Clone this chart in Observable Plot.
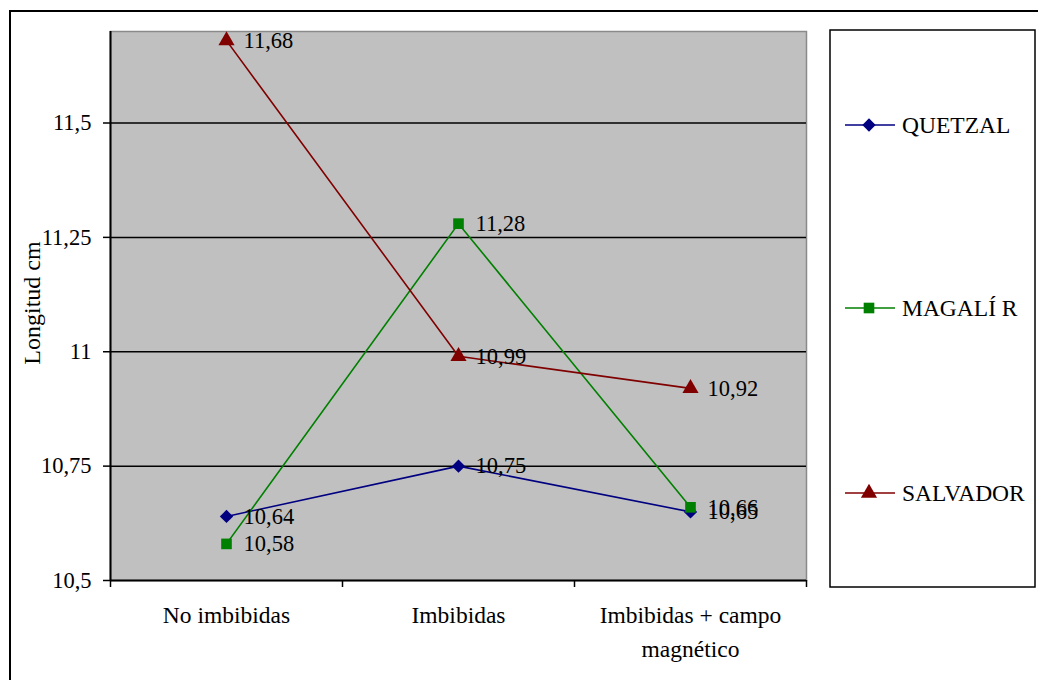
<!DOCTYPE html>
<html>
<head>
<meta charset="utf-8">
<script src="https://cdn.jsdelivr.net/npm/d3@7"></script>
<script src="https://cdn.jsdelivr.net/npm/@observablehq/plot@0.6"></script>
<style>
  html, body { margin: 0; padding: 0; background: #fff; }
  #chart { width: 1038px; height: 680px; overflow: hidden; }
</style>
</head>
<body>
<div id="chart"></div>
<script>
const categories = ["No imbibidas", "Imbibidas", "Imbibidas + campo\nmagnético"];
const seriesNames = ["QUETZAL", "MAGALÍ R", "SALVADOR"];
const seriesColors = ["#000080", "#008000", "#800000"];
const seriesSymbols = ["diamond2", "square", "triangle"];
const quetzal = [10.64, 10.75, 10.65];
const magali = [10.58, 11.28, 10.66];
const salvador = [11.68, 10.99, 10.92];
const yTicks = [10.5, 10.75, 11, 11.25, 11.5];
const yTitle = "Longitud cm";

const seriesValues = [quetzal, magali, salvador];
const data = [];
seriesNames.forEach((s, si) => {
  seriesValues[si].forEach((v, ci) => data.push({series: s, cat: ci + 0.5, value: v}));
});
const fmt = d => String(d).replace(".", ",");
const FONT = "'Liberation Serif', 'Times New Roman', serif";

const plot = Plot.plot({
  width: 1038,
  height: 680,
  marginLeft: 110,
  marginRight: 232,
  marginTop: 31,
  marginBottom: 100,
  style: {fontFamily: FONT, fontSize: "22px", color: "#000", background: "transparent"},
  x: {type: "linear", domain: [0, 3], axis: null},
  y: {domain: [10.5, 11.7], axis: null},
  color: {domain: seriesNames, range: seriesColors},
  symbol: {domain: seriesNames, range: seriesSymbols},
  marks: [
    Plot.frame({fill: "#c0c0c0", stroke: "#8a8a8a", strokeWidth: 1.5}),
    Plot.ruleY(yTicks.slice(1), {stroke: "#000", strokeWidth: 1.5}),
    Plot.ruleY([10.5], {stroke: "#000", strokeWidth: 2}),
    Plot.ruleX([0], {stroke: "#000", strokeWidth: 2}),
    Plot.axisY({ticks: yTicks, tickFormat: fmt, tickSize: 7, tickPadding: 12, fontSize: 22.5, label: null, stroke: "#000", strokeWidth: 1.5}),
    Plot.axisX({ticks: [0, 1, 2, 3], tickFormat: () => "", tickSize: 7, label: null, stroke: "#000", strokeWidth: 1.5}),
    Plot.text(categories, {x: (d, i) => i + 0.5, y: 10.5, text: d => d, lineAnchor: "top", dy: 18, lineHeight: 1.45, fontSize: 23.5, fill: "#000"}),
    Plot.text([yTitle], {frameAnchor: "left", textAnchor: "middle", dx: -78, dy: -3, rotate: -90, fontSize: 24, fill: "#000"}),
    Plot.line(data, {x: "cat", y: "value", z: "series", stroke: "series", strokeWidth: 1.6}),
    Plot.dot(data, {x: "cat", y: "value", symbol: "series", fill: "series", r: 6, stroke: "none"}),
    Plot.text(data, {x: "cat", y: "value", text: d => fmt(d.value), textAnchor: "start", dx: 17, fontSize: 22.5, fill: "#000"})
  ]
});

const svg = d3.select(plot);
// outer chart border
svg.append("rect").attr("x", 10).attr("y", 11).attr("width", 1060).attr("height", 720)
  .attr("fill", "none").attr("stroke", "#000").attr("stroke-width", 2);
// legend box
const lg = svg.append("g").attr("font-size", 23.5).attr("text-anchor", "start");
lg.append("rect").attr("x", 830).attr("y", 30).attr("width", 205).attr("height", 557)
  .attr("fill", "#fff").attr("stroke", "#000").attr("stroke-width", 1.5);
const legendY = [125, 308, 493];
const symMap = {diamond2: d3.symbolDiamond2, square: d3.symbolSquare, triangle: d3.symbolTriangle};
seriesNames.forEach((s, i) => {
  const y = legendY[i];
  lg.append("line").attr("x1", 845).attr("x2", 895).attr("y1", y).attr("y2", y)
    .attr("stroke", seriesColors[i]).attr("stroke-width", 1.6);
  lg.append("path").attr("d", d3.symbol(symMap[seriesSymbols[i]], Math.PI * 6 * 6)())
    .attr("transform", `translate(869,${y})`).attr("fill", seriesColors[i]);
  lg.append("text").attr("x", 902).attr("y", y).attr("dy", "0.34em").attr("fill", "#000").attr("text-anchor", "start").text(s);
});
svg.attr("font-family", FONT);
svg.selectAll("text").style("font-family", FONT);

document.getElementById("chart").appendChild(plot);
</script>
</body>
</html>
